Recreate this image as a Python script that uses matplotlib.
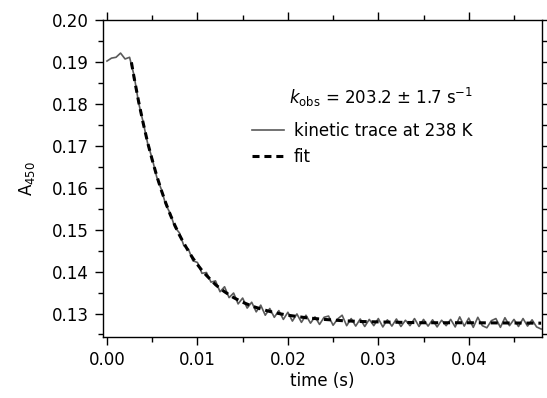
import numpy as np
import matplotlib
matplotlib.use("Agg")
import matplotlib.pyplot as plt
from matplotlib.ticker import MultipleLocator

# kinetic trace (time in s, absorbance at 450 nm), sampled every 0.5 ms
t_trace = np.arange(97) * 0.0005
a_trace = [0.1903, 0.1910, 0.1912, 0.1922, 0.1908, 0.1912, 0.1868, 0.1803, 0.1757, 0.1706,
           0.1670, 0.1626, 0.1597, 0.1560, 0.1539, 0.1506, 0.1493, 0.1462, 0.1454, 0.1426,
           0.1422, 0.1396, 0.1398, 0.1375, 0.1378, 0.1352, 0.1364, 0.1338, 0.1349, 0.1323,
           0.1337, 0.1313, 0.1327, 0.1304, 0.1320, 0.1296, 0.1312, 0.1291, 0.1307, 0.1286,
           0.1303, 0.1282, 0.1299, 0.1279, 0.1296, 0.1277, 0.1292, 0.1274, 0.1291, 0.1294,
           0.1272, 0.1287, 0.1296, 0.1271, 0.1288, 0.1270, 0.1287, 0.1269, 0.1286, 0.1271,
           0.1288, 0.1268, 0.1285, 0.1270, 0.1287, 0.1269, 0.1284, 0.1271, 0.1288, 0.1269,
           0.1286, 0.1270, 0.1285, 0.1268, 0.1284, 0.1271, 0.1286, 0.1268, 0.1292, 0.1270,
           0.1289, 0.1267, 0.1291, 0.1271, 0.1266, 0.1283, 0.1288, 0.1267, 0.1290, 0.1271,
           0.1286, 0.1269, 0.1288, 0.1270, 0.1285, 0.1268, 0.1263]

# fit curve
t_fit = [0.0027, 0.0030, 0.0035, 0.0040, 0.0045, 0.0050, 0.0055, 0.0060, 0.0065, 0.0070,
         0.0075, 0.0080, 0.0085, 0.0090, 0.0095, 0.0100, 0.0105, 0.0110, 0.0115, 0.0120,
         0.0125, 0.0130, 0.0140, 0.0150, 0.0160, 0.0170, 0.0180, 0.0190, 0.0200, 0.0220,
         0.0240, 0.0260, 0.0280, 0.0300, 0.0350, 0.0400, 0.0480]
a_fit = [0.1900, 0.1863, 0.1806, 0.1755, 0.1708, 0.1667, 0.1629, 0.1595, 0.1564, 0.1536,
         0.1511, 0.1488, 0.1468, 0.1449, 0.1432, 0.1417, 0.1403, 0.1391, 0.1380, 0.1369,
         0.1360, 0.1352, 0.1338, 0.1327, 0.1318, 0.1311, 0.1305, 0.1300, 0.1296, 0.1290,
         0.1286, 0.1283, 0.1281, 0.1280, 0.1278, 0.1278, 0.1277]

x_ticks = [0.00, 0.01, 0.02, 0.03, 0.04]
y_ticks = [0.13, 0.14, 0.15, 0.16, 0.17, 0.18, 0.19, 0.20]

plt.rcParams['font.family'] = ['DejaVu Sans']
plt.rcParams['font.size'] = 12

fig = plt.figure(figsize=(5.47, 3.98), dpi=100)
ax = fig.add_axes([0.1883, 0.1533, 0.8026, 0.7964])

ax.plot(t_trace, a_trace, color='#5a5a5a', lw=1.2, label='kinetic trace at 238 K')
ax.plot(t_fit, a_fit, color='black', lw=2.2, linestyle=(0, (2.3, 1.6)), label='fit')

ax.set_xlim(-0.00044, 0.0481)
ax.set_ylim(0.1244, 0.2001)
ax.set_xticks(x_ticks)
ax.set_yticks(y_ticks)
ax.set_xticklabels(['%.2f' % v for v in x_ticks])
ax.set_yticklabels(['%.2f' % v for v in y_ticks])
ax.xaxis.set_minor_locator(MultipleLocator(0.005))
ax.yaxis.set_minor_locator(MultipleLocator(0.005))
ax.tick_params(which='both', direction='out', top=True, right=True, width=1.0, colors='black')
ax.tick_params(which='major', length=6, pad=4)
ax.tick_params(which='minor', length=3.5)
for s in ax.spines.values():
    s.set_linewidth(1.0)

ax.set_xlabel('time (s)', labelpad=2)
ax.set_ylabel('A$_{450}$', labelpad=11)

ax.text(0.0201, 0.1817, '$k$$_{\\mathrm{obs}}$ = 203.2 ± 1.7 s$^{-1}$', fontsize=12, va='center')

leg = ax.legend(loc='upper left', bbox_to_anchor=(0.305, 0.725), frameon=False,
                handlelength=1.9, handletextpad=0.6, labelspacing=0.45, fontsize=12)

fig.savefig('out.png', dpi=100)
